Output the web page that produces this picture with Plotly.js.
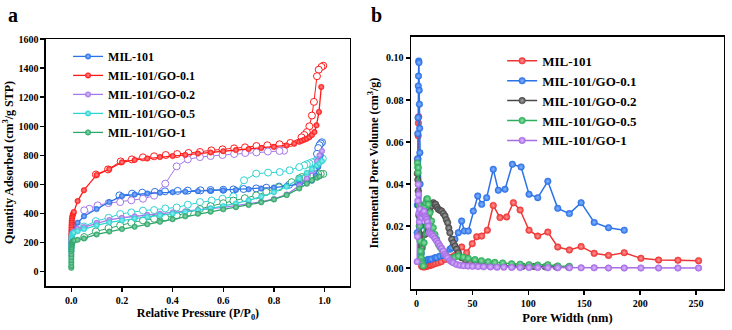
<!DOCTYPE html>
<html>
<head>
<meta charset="utf-8">
<script src="https://cdn.plot.ly/plotly-3.0.1.min.js"></script>
<style>html,body{margin:0;padding:0;background:#fff;}#chart{width:732px;height:330px;}</style>
</head>
<body>
<div id="chart"></div>
<script>
// ---------- Panel a: N2 isotherms ----------
const sampleNamesA = ['MIL-101','MIL-101/GO-0.1','MIL-101/GO-0.2','MIL-101/GO-0.5','MIL-101/GO-1'];
const colorsA = ['#2b72e6','#ff1a1a','#a678e8','#2ed3d3','#2fa66a'];
const lightA  = ['#8fb6ff','#ff9090','#d6c2ff','#9aeeee','#92d8b0'];

// MIL-101
const mil_adsP = [0.00005,0.0001,0.0002,0.0004,0.0007,0.0012,0.002,0.0035,0.006,0.01,0.025,0.05,0.1,0.15,0.2,0.25,0.3,0.35,0.4,0.45,0.5,0.55,0.6,0.65,0.7,0.75,0.8,0.85,0.9,0.93,0.95,0.965,0.975,0.985];
const mil_adsV = [160,180,200,220,240,258,275,292,308,320,336,380,430,478,520,530,537,542,546,550,553,556,559,562,566,571,578,588,600,612,625,660,720,800];
const mil_desP = [0.99,0.985,0.98,0.975,0.97,0.965,0.96,0.95,0.93,0.9,0.86,0.82,0.77,0.73,0.68,0.64,0.6,0.55,0.51,0.46,0.42,0.37,0.33,0.28,0.24,0.19];
const mil_desV = [890,882,870,850,810,760,700,650,625,607,597,585,577,572,568,565,563,561,559,557,555,552,548,543,536,524];

// MIL-101/GO-0.1
const go01_adsP = [0.00005,0.0001,0.0002,0.0003,0.0005,0.0007,0.001,0.0015,0.002,0.003,0.004,0.006,0.008,0.01,0.025,0.05,0.1,0.15,0.2,0.25,0.3,0.35,0.4,0.45,0.5,0.55,0.6,0.65,0.7,0.75,0.8,0.85,0.88,0.9,0.91,0.92,0.93,0.94,0.95,0.96,0.968,0.978,0.987];
const go01_adsV = [200,220,240,260,280,300,318,335,350,365,378,390,400,410,485,560,665,705,752,768,778,788,795,803,812,820,828,836,843,851,858,868,880,893,900,908,915,925,940,960,1007,1099,1271];
const go01_desP = [0.995,0.988,0.977,0.97,0.958,0.95,0.94,0.93,0.92,0.909,0.865,0.822,0.774,0.731,0.686,0.643,0.597,0.553,0.508,0.463,0.418,0.373,0.327,0.283,0.239,0.195,0.145,0.097];
const go01_desV = [1417,1409,1390,1345,1168,1074,1000,960,940,924,885,876,869,864,855,848,841,834,823,816,809,802,793,786,772,758,703,668];

// MIL-101/GO-0.2
const go02_adsP = [0.00005,0.0001,0.0002,0.0004,0.0007,0.0012,0.002,0.0035,0.006,0.01,0.025,0.05,0.1,0.15,0.2,0.25,0.3,0.35,0.4,0.45,0.5,0.55,0.6,0.65,0.7,0.75,0.8,0.85,0.9,0.93,0.95,0.97,0.98,0.99];
const go02_adsV = [110,140,165,190,210,228,242,255,266,275,294,306,335,355,370,380,390,398,407,415,423,432,442,453,466,480,500,530,590,640,690,760,800,830];
const go02_desP = [0.84,0.822,0.776,0.731,0.687,0.643,0.597,0.55,0.508,0.46,0.416,0.371,0.327,0.283,0.237,0.193,0.147,0.104,0.071,0.051];
const go02_desV = [832,830,826,820,816,809,802,795,788,772,724,605,522,501,490,478,471,455,432,421];

// MIL-101/GO-0.5
const go05_adsP = [0.00005,0.0001,0.0002,0.0004,0.0007,0.0012,0.002,0.0035,0.006,0.01,0.025,0.05,0.1,0.15,0.2,0.25,0.3,0.35,0.4,0.45,0.5,0.55,0.6,0.65,0.7,0.75,0.8,0.85,0.9,0.93,0.95,0.97,0.98,0.99];
const go05_adsV = [140,165,185,205,220,235,245,255,262,268,278,292,318,338,352,365,376,387,398,410,422,435,450,468,490,515,545,585,640,680,705,730,745,760];
const go05_desP = [0.993,0.98,0.97,0.96,0.95,0.94,0.93,0.92,0.9,0.862,0.823,0.777,0.73,0.682,0.64,0.597,0.554,0.508,0.46,0.416,0.371,0.327,0.283,0.237,0.193,0.147,0.097,0.05];
const go05_desV = [777,768,762,757,752,745,738,730,719,697,685,681,674,628,517,501,489,478,460,441,434,423,419,407,396,370,347,310];

// MIL-101/GO-1
const go1_adsP = [0.00003,0.00005,0.0001,0.00015,0.0002,0.0003,0.0005,0.0007,0.001,0.0015,0.002,0.003,0.005,0.008,0.012,0.025,0.05,0.1,0.15,0.2,0.25,0.3,0.35,0.4,0.45,0.5,0.55,0.6,0.65,0.7,0.75,0.8,0.85,0.9,0.93,0.95,0.97,0.98];
const go1_adsV = [25,40,60,80,100,120,140,155,168,180,190,198,205,210,214,218,228,255,275,292,308,325,342,360,380,398,412,428,443,458,476,496,526,572,605,628,645,655];
const go1_desP = [0.995,0.985,0.975,0.965,0.955,0.945,0.93,0.91,0.9,0.87,0.82,0.77,0.73,0.685,0.64,0.6,0.55,0.508,0.46,0.416,0.371,0.327,0.283,0.237,0.193,0.147,0.097,0.051];
const go1_desV = [672,672,671,670,668,665,660,650,641,615,580,548,524,505,488,470,450,430,405,385,371,363,352,336,317,299,276,237];

const adsA = [[mil_adsP,mil_adsV],[go01_adsP,go01_adsV],[go02_adsP,go02_adsV],[go05_adsP,go05_adsV],[go1_adsP,go1_adsV]];
const desA = [[mil_desP,mil_desV],[go01_desP,go01_desV],[go02_desP,go02_desV],[go05_desP,go05_desV],[go1_desP,go1_desV]];

// ---------- Panel b: pore size distributions ----------
const sampleNamesB = ['MIL-101','MIL-101/GO-0.1','MIL-101/GO-0.2','MIL-101/GO-0.5','MIL-101/GO-1'];
const colorsB = ['#ee3434','#2b72e6','#4a4a4a','#2fae5c','#a86ce6'];
const lightB  = ['#ff9a9a','#8ab6ff','#a8a8a8','#8ee0aa','#dcbfff'];

const milW = [0.8,1.0,1.2,1.4,1.6,1.9,2.3,2.8,3.5,4.5,5.8,7.4,9.0,10.4,12,13.4,15,17,19.4,22,25.4,28.5,31.4,34.3,37.3,40.3,44.8,49.8,53.8,58.2,63.3,68.6,74.6,80.6,86.6,92.6,100.6,108.4,117.4,126.3,136.7,147.2,158.9,171.7,185.8,200.7,216.5,233.8,252.3];
const milPV = [0.045,0.051,0.052,0.063,0.069,0.072,0.04,0.015,0.004,0.0008,0.0005,0.0005,0.0008,0.001,0.0012,0.0014,0.0018,0.0022,0.0025,0.003,0.0041,0.0045,0.0052,0.006,0.0068,0.0100,0.0073,0.0116,0.0149,0.0152,0.018,0.0298,0.024,0.0243,0.0311,0.0276,0.018,0.0152,0.0171,0.01,0.0086,0.0102,0.007,0.006,0.0073,0.0046,0.0038,0.0037,0.0035];

const go01W = [0.5,0.7,0.9,1.1,1.3,1.5,1.7,1.9,2.1,2.3,2.5,2.7,2.9,3.1,3.3,3.6,3.9,4.2,4.6,5.2,6.0,7.4,9.0,10.4,11.9,13.4,16.4,17.9,20.9,23.8,25.4,29.8,31.4,34.3,37.3,40.3,42.7,46.2,50.7,54.7,58.2,62.7,68.6,73.1,79.1,85.7,93.5,100.6,108.4,117.4,126.3,136.7,147.2,158.9,171.7,185.8];
const go01PV = [0.0168,0.03,0.052,0.064,0.0716,0.0867,0.0914,0.0986,0.0978,0.0846,0.078,0.0665,0.0549,0.04,0.03,0.02,0.012,0.007,0.004,0.003,0.0028,0.0033,0.0038,0.0041,0.0041,0.0043,0.0049,0.005,0.0057,0.006,0.0073,0.0089,0.0097,0.0137,0.0168,0.0224,0.0176,0.0176,0.0271,0.0343,0.0303,0.0335,0.047,0.037,0.0375,0.0494,0.0481,0.0351,0.0335,0.0413,0.0284,0.0259,0.0311,0.0217,0.0192,0.0180];

const go02W = [0.8,1.1,1.4,1.7,2.0,2.4,2.9,3.5,4.2,5.0,6.0,7.4,8.8,10.4,12.0,13.4,14.9,16.0,17.0,18.2,19.4,20.9,22.4,23.9,25.4,26.6,27.8,28.8,29.8,31.4,32.8,34.3,35.8,37.3,40.3,44,48,53,58,64,70,78,86,95,105,115,125,136];
const go02PV = [0.045,0.042,0.0367,0.03,0.025,0.02,0.016,0.013,0.0105,0.0097,0.012,0.016,0.02,0.024,0.027,0.0295,0.0311,0.0305,0.0303,0.029,0.028,0.0275,0.0271,0.026,0.0248,0.023,0.0216,0.019,0.0168,0.0137,0.012,0.0105,0.009,0.0073,0.0049,0.0035,0.0028,0.0022,0.0018,0.0015,0.0013,0.0011,0.0009,0.0008,0.0007,0.0006,0.0005,0.0004];

const go05W = [0.8,1.0,1.2,1.5,1.8,2.2,2.6,3.0,3.5,4.0,4.5,5.2,6.0,6.7,7.4,8.2,9.0,9.7,10.4,11.9,13.4,14.9,16.4,17.9,19.4,20.9,22.4,23.9,25.4,26.9,28.3,29.8,31.4,32.8,34.3,37.3,41.8,46.2,52.2,58,64,70,77,85,92.6,100.6,108.4,117.4,126.3,136.7];
const go05PV = [0.05,0.048,0.0455,0.0478,0.04,0.03,0.02,0.0129,0.008,0.0049,0.003,0.002,0.001,0.012,0.0295,0.031,0.0327,0.033,0.0303,0.0263,0.0224,0.0192,0.016,0.0137,0.0113,0.01,0.0089,0.0077,0.0065,0.0057,0.0049,0.0045,0.0044,0.0048,0.0052,0.0057,0.0052,0.0046,0.004,0.0035,0.003,0.0027,0.0024,0.002,0.0018,0.0016,0.0014,0.0016,0.001,0.0008];

const go1W = [0.5,0.8,1.1,1.4,1.7,2.0,2.5,3.0,3.7,4.5,5.2,6.0,6.7,7.4,8.2,9.0,9.7,10.4,11.0,12.0,13.4,14.9,16.4,17.9,19.4,20.9,22.4,23.9,25.4,26.6,27.8,29.8,31.4,32.8,35.8,38.8,42,46,50,55,60,66,72,78,85,92.6,100.6,108.4,117.4,126.3,136.7,147.2,158.9,171.7,185.8,200.7,216.5,233.8,252.3];
const go1PV = [0.003,0.015,0.032,0.0398,0.035,0.026,0.022,0.028,0.025,0.024,0.026,0.0263,0.027,0.0248,0.024,0.0232,0.022,0.02,0.0168,0.0165,0.016,0.0152,0.0141,0.0129,0.0118,0.0105,0.0094,0.0081,0.0065,0.0057,0.0049,0.0036,0.003,0.0025,0.0017,0.0013,0.0011,0.0009,0.0008,0.0007,0.0006,0.0005,0.0004,0.0004,0.0003,0.0002,0.0002,0.0002,0.0001,0.0001,0.0001,0.0001,0.0001,0,0,0,0,0,0];

const psdB = [[milW,milPV],[go01W,go01PV],[go02W,go02PV],[go05W,go05PV],[go1W,go1PV]];

// ---------- traces ----------
const traces = [];
for (let i = 0; i < 5; i++) {
  traces.push({
    x: desA[i][0], y: desA[i][1], xaxis:'x', yaxis:'y', type:'scatter', mode:'lines+markers',
    name: sampleNamesA[i], showlegend:false, hoverinfo:'skip',
    line:{color:colorsA[i], width:1},
    marker:{symbol:'circle', size:7, color:'white', line:{color:colorsA[i], width:1}}
  });
}
for (let i = 0; i < 5; i++) {
  traces.push({
    x: adsA[i][0], y: adsA[i][1], xaxis:'x', yaxis:'y', type:'scatter', mode:'lines+markers',
    name: sampleNamesA[i], legend:'legend', legendrank: i+1,
    line:{color:colorsA[i], width:1.3},
    marker:{symbol:'circle', size:5.5, color:colorsA[i], gradient:{type:'radial', color:lightA[i]}, line:{color:colorsA[i], width:0.5}}
  });
}
for (let i = 0; i < 5; i++) {
  traces.push({
    x: psdB[i][0], y: psdB[i][1], xaxis:'x2', yaxis:'y2', type:'scatter', mode:'lines+markers',
    name: sampleNamesB[i], legend:'legend2', legendrank: i+1,
    line:{color:colorsB[i], width:1.5},
    marker:{symbol:'circle', size:6.5, color:colorsB[i], gradient:{type:'radial', color:lightB[i]}, line:{color:colorsB[i], width:0.6}}
  });
}

const FONT = '"Liberation Serif", "Times New Roman", Times, serif';
const axBase = {
  showline:true, linewidth:1.5, linecolor:'#000', mirror:true, showgrid:false, zeroline:false,
  ticks:'outside', ticklen:4, tickwidth:1.5, tickcolor:'#000', automargin:false,
  tickfont:{family:FONT, size:10, color:'#000', weight:'bold'}
};

const layout = {
  width:732, height:330, margin:{l:0, r:0, t:0, b:0},
  paper_bgcolor:'#fff', plot_bgcolor:'#fff',
  font:{family:FONT, color:'#000'},
  xaxis: Object.assign({}, axBase, {
    domain:[0.0628, 0.478], range:[-0.1, 1.1], tick0:0, dtick:0.2, tickformat:'.1f', anchor:'y',
    title:{text:'<b>Relative Pressure (P/P<sub>0</sub>)</b>', font:{family:FONT, size:12, color:'#000'}, standoff:4}
  }),
  yaxis: Object.assign({}, axBase, {
    domain:[0.1333, 0.8818], range:[-100, 1601], tick0:0, dtick:200, anchor:'x',
    title:{text:'<b>Quantity Adsorbed (cm<sup>3</sup>/g STP)</b>', font:{family:FONT, size:12, color:'#000'}, standoff:2}
  }),
  xaxis2: Object.assign({}, axBase, {
    domain:[0.5615, 0.989], range:[-5, 275], tick0:0, dtick:50, anchor:'y2',
    title:{text:'<b>Pore Width (nm)</b>', font:{family:FONT, size:12.5, color:'#000'}, standoff:5}
  }),
  yaxis2: Object.assign({}, axBase, {
    domain:[0.1242, 0.8879], range:[-0.01, 0.11], tick0:0, dtick:0.02, tickformat:'.2f', anchor:'x2',
    title:{text:'<b>Incremental Pore Volume (cm<sup>3</sup>/g)</b>', font:{family:FONT, size:12, color:'#000'}, standoff:5}
  }),
  legend:{x:0.093, xanchor:'left', y:0.873, yanchor:'top', bgcolor:'rgba(0,0,0,0)', borderwidth:0,
    tracegroupgap:0, itemwidth:30, font:{family:FONT, size:12, color:'#000', weight:'bold'}},
  legend2:{x:0.686, xanchor:'left', y:0.861, yanchor:'top', bgcolor:'rgba(0,0,0,0)', borderwidth:0,
    tracegroupgap:0, itemwidth:30, font:{family:FONT, size:13, color:'#000', weight:'bold'}},
  annotations:[
    {text:'<b>a</b>', xref:'paper', yref:'paper', x:13/732, y:1-15/330, xanchor:'center', yanchor:'middle', showarrow:false, font:{family:FONT, size:20, color:'#000'}},
    {text:'<b>b</b>', xref:'paper', yref:'paper', x:376/732, y:1-15/330, xanchor:'center', yanchor:'middle', showarrow:false, font:{family:FONT, size:20, color:'#000'}}
  ],
  showlegend:true
};

Plotly.newPlot('chart', traces, layout, {displayModeBar:false, staticPlot:true});
</script>
</body>
</html>
